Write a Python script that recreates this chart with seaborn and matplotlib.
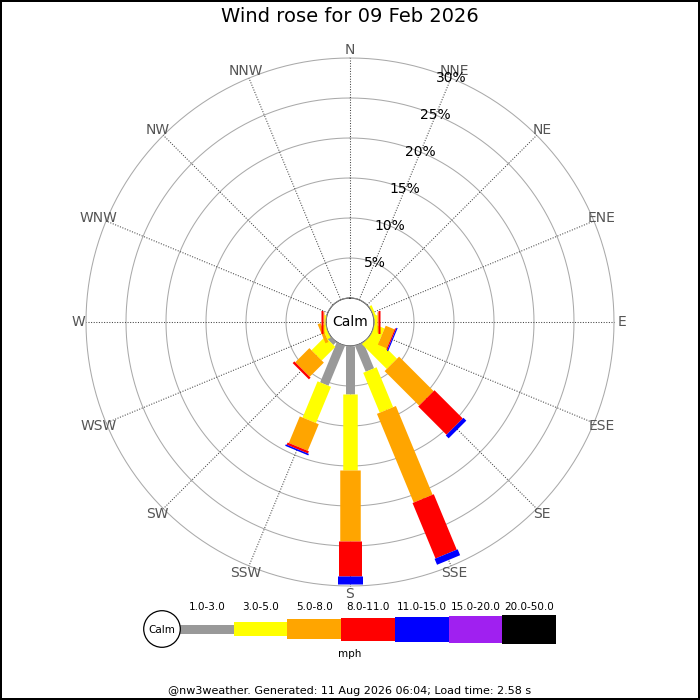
import numpy as np
import seaborn as sns
import matplotlib
matplotlib.use("Agg")
import matplotlib.pyplot as plt
from matplotlib.patches import Circle

# wind directions (clockwise from N)
directions = ["N", "NNE", "NE", "ENE", "E", "ESE", "SE", "SSE",
              "S", "SSW", "SW", "WSW", "W", "WNW", "NW", "NNW"]

# speed bins (mph)
speed_bins = ["1.0-3.0", "3.0-5.0", "5.0-8.0", "8.0-11.0",
              "11.0-15.0", "15.0-20.0", "20.0-50.0"]

# frequency (%) for each direction, per speed bin
pct_1_3 = [0, 0, 0, 0, 0, 0, 0, 3.5, 6.0, 5.4, 0.5, 0, 0, 0, 0, 0]
pct_3_5 = [0, 0, 0, 0.3, 0.4, 1.3, 4.4, 5.4, 9.5, 4.9, 2.4, 0.45, 0.3, 0, 0, 0]
pct_5_8 = [0, 0, 0, 0, 0.1, 1.2, 6.1, 12.0, 8.9, 3.6, 2.5, 0.4, 0.05, 0, 0, 0]
pct_8_11 = [0, 0, 0, 0, 0.3, 0.15, 5.0, 7.5, 4.4, 0.3, 0.3, 0, 0.25, 0, 0, 0]
pct_11_15 = [0, 0, 0, 0, 0, 0.15, 0.5, 0.8, 1.0, 0.2, 0, 0, 0, 0, 0, 0]
pct_15_20 = [0] * 16
pct_20_50 = [0] * 16

pct_ticks = [5, 10, 15, 20, 25, 30]

sns.set_style("white")
plt.rcParams["font.family"] = ["DejaVu Sans"]
plt.rcParams["text.color"] = "black"

colors = ["#999999", "#ffff00", "#ffa500", "#ff0000", "#0000ff", "#a020f0", "#000000"]
bar_px = [9, 14.5, 20.5, 23, 25, 27, 29]   # thickness of each bin in pixels

fig = plt.figure(figsize=(7, 7), dpi=100)
fig.patch.set_edgecolor("black")
fig.patch.set_linewidth(1.5)

# polar axes: centre at (350, 322) px, radius 264 px
ax = fig.add_axes([86 / 700, 114 / 700, 528 / 700, 528 / 700], projection="polar")
ax.set_theta_zero_location("N")
ax.set_theta_direction(-1)
ax.set_ylim(0, 30)
ax.set_rorigin(-3)
ax.grid(False)
ax.spines["polar"].set_visible(False)
ax.set_xticks([])
ax.set_yticks([])
ax.patch.set_alpha(0)

theta = np.deg2rad(np.arange(16) * 22.5)

# rings
circ = np.linspace(0, 2 * np.pi, 361)
for r in pct_ticks:
    ax.plot(circ, np.full_like(circ, r), color="#aaaaaa", lw=0.75,
            zorder=1, clip_on=False)
# spokes
for th in theta:
    ax.plot([th, th], [0, 30], color="#444444", lw=0.75,
            linestyle=(0, (1, 1.5)), zorder=1, clip_on=False)

# stacked bars
series = [pct_1_3, pct_3_5, pct_5_8, pct_8_11, pct_11_15, pct_15_20, pct_20_50]
bottom = np.zeros(16)
for vals, c, w in zip(series, colors, bar_px):
    vals = np.array(vals, dtype=float)
    top = bottom + vals
    m = vals > 0
    if m.any():
        ax.vlines(theta[m], bottom[m], top[m], colors=c,
                  linewidth=w * 0.72, capstyle="butt", zorder=3)
    bottom = top

# direction labels
for th, name in zip(theta, directions):
    ax.text(th, 31, name, ha="center", va="center", fontsize=10,
            color="#555555", clip_on=False)

# percentage labels along NNE
for r in pct_ticks:
    ax.text(np.deg2rad(22.5), r, f"{r}%", ha="center", va="center",
            fontsize=10, color="black", zorder=5)

# calm circle
ax.add_patch(Circle((0.5, 0.5), 24 / 528, transform=ax.transAxes,
                    facecolor="white", edgecolor="#999999", lw=0.8, zorder=6))
ax.text(0.5, 0.5, "Calm", transform=ax.transAxes, ha="center", va="center",
        fontsize=10, zorder=7)

fig.text(0.5, 1 - 17 / 700, "Wind rose for 09 Feb 2026", ha="center",
         va="center", fontsize=14)

# legend in pixel coordinates
lg = fig.add_axes([0, 0, 1, 1])
lg.set_xlim(0, 700)
lg.set_ylim(700, 0)
lg.axis("off")
lg.patch.set_alpha(0)
seg = 53.7
for i, (lab, c, w) in enumerate(zip(speed_bins, colors, bar_px)):
    x0 = 180 + i * seg
    lg.barh(629, seg, left=x0, height=w, color=c, edgecolor="none")
    lg.text(x0 + seg / 2, 607, lab, ha="center", va="center", fontsize=7.5)
lg.add_patch(Circle((162, 629), 18.3, facecolor="white", edgecolor="black", lw=0.9))
lg.text(162, 630, "Calm", ha="center", va="center", fontsize=7.5)
lg.text(350, 654, "mph", ha="center", va="center", fontsize=7.5)
lg.text(350, 691, "@nw3weather. Generated: 11 Aug 2026 06:04; Load time: 2.58 s",
        ha="center", va="center", fontsize=8)

fig.savefig("out.png", dpi=100)
